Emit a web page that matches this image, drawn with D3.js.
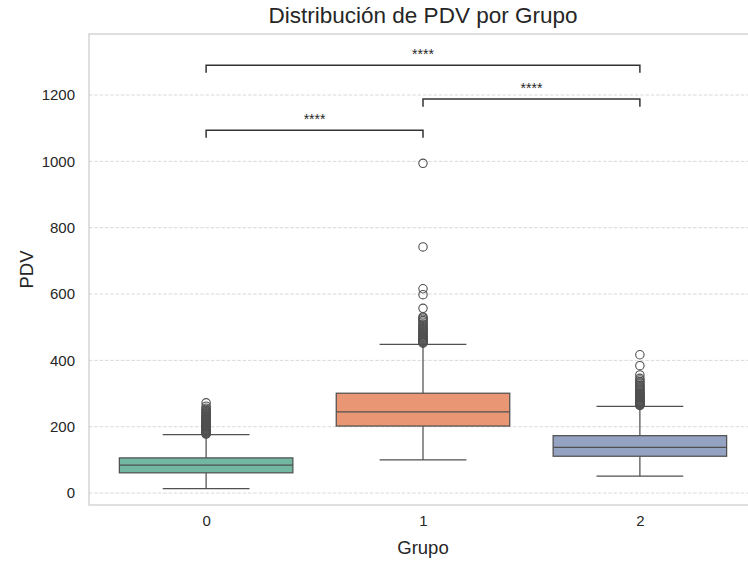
<!DOCTYPE html>
<html>
<head>
<meta charset="utf-8">
<script src="https://cdn.jsdelivr.net/npm/d3@7"></script>
<style>
  body { margin: 0; background: #fff; }
  text { font-family: "Liberation Sans", Arial, sans-serif; fill: #262626; }
</style>
</head>
<body>
<svg id="chart" width="748" height="561"></svg>
<script>
// data
const groups = [0, 1, 2];
const q1 = [61, 202, 111];
const medians = [84, 245, 138];
const q3 = [106, 301, 173];
const whiskerLow = [13, 100, 51];
const whiskerHigh = [176, 448, 261];
const outliers0 = [178, 179, 181, 182, 184, 185, 187, 188, 190, 191, 193, 194, 196, 197, 199, 200, 202, 203, 205, 206, 208, 210, 211, 213, 215, 217, 219, 221, 223, 225, 227, 229, 231, 233, 236, 239, 242, 245, 248, 252, 256, 262, 272];
const outliers1 = [452, 454, 456, 458, 460, 462, 464, 466, 468, 470, 472, 474, 477, 480, 483, 486, 489, 492, 495, 498, 502, 506, 510, 515, 520, 524, 528, 531, 557, 598, 616, 742, 994];
const outliers2 = [264, 265, 266, 268, 269, 270, 272, 273, 275, 276, 278, 279, 281, 283, 285, 287, 289, 291, 293, 295, 297, 299, 302, 305, 308, 311, 314, 317, 320, 324, 328, 332, 336, 341, 346, 356, 384, 417];
const yTicks = [0, 200, 400, 600, 800, 1000, 1200];
const pairs = [[0, 1], [1, 2], [0, 2]];
const pairLevels = [1094, 1188, 1290];
const pairLabels = ["****", "****", "****"];
const fills = ["#71b7a1", "#e99675", "#95a3c3"];

(function(){
	const MARGIN = { top: 34, left: 89, bottom: 505, right: 757 };
	const lineColor = "#505050";
	const outliers = [outliers0, outliers1, outliers2];

	const svg = d3.select("#chart");

	const x = d3.scaleLinear().domain([-0.54, 2.54]).range([MARGIN.left, MARGIN.right]);
	const y = d3.scaleLinear().domain([-36, 1384]).range([MARGIN.bottom, MARGIN.top]);
	const band = x(1) - x(0);
	const boxW = band * 0.8;
	const capW = boxW * 0.5;

	// grid
	svg.append("g")
		.selectAll("line")
		.data(yTicks)
		.enter().append("line")
		.attr("x1", MARGIN.left).attr("x2", MARGIN.right)
		.attr("y1", d => y(d)).attr("y2", d => y(d))
		.attr("stroke", "#d9d9d9")
		.attr("stroke-width", 1)
		.attr("stroke-dasharray", "3.5,1.8");

	// y axis labels
	const yAxis = svg.append("g")
		.attr("transform", "translate(" + MARGIN.left + ",0)")
		.call(d3.axisLeft(y).tickValues(yTicks).tickFormat(d3.format("d")).tickSize(0).tickPadding(14));
	yAxis.select(".domain").remove();
	yAxis.selectAll("text").style("font-size", "15px").attr("fill", "#262626");

	// x axis labels
	const xAxis = svg.append("g")
		.attr("transform", "translate(0," + MARGIN.bottom + ")")
		.call(d3.axisBottom(x).tickValues(groups).tickFormat(d3.format("d")).tickSize(0).tickPadding(10));
	xAxis.select(".domain").remove();
	xAxis.selectAll("text").style("font-size", "15px").attr("fill", "#262626");

	// boxes
	const g = svg.append("g");
	groups.forEach(function(k, i){
		const cx = x(k);
		// whiskers
		g.append("line")
			.attr("x1", cx).attr("x2", cx)
			.attr("y1", y(q3[i])).attr("y2", y(whiskerHigh[i]))
			.attr("stroke", lineColor).attr("stroke-width", 1.25);
		g.append("line")
			.attr("x1", cx).attr("x2", cx)
			.attr("y1", y(q1[i])).attr("y2", y(whiskerLow[i]))
			.attr("stroke", lineColor).attr("stroke-width", 1.25);
		[whiskerHigh[i], whiskerLow[i]].forEach(function(v){
			g.append("line")
				.attr("x1", cx - capW / 2).attr("x2", cx + capW / 2)
				.attr("y1", y(v)).attr("y2", y(v))
				.attr("stroke", lineColor).attr("stroke-width", 1.25);
		});
		// box
		g.append("rect")
			.attr("x", cx - boxW / 2)
			.attr("y", y(q3[i]))
			.attr("width", boxW)
			.attr("height", y(q1[i]) - y(q3[i]))
			.attr("fill", fills[i])
			.attr("stroke", lineColor).attr("stroke-width", 1.25);
		g.append("line")
			.attr("x1", cx - boxW / 2).attr("x2", cx + boxW / 2)
			.attr("y1", y(medians[i])).attr("y2", y(medians[i]))
			.attr("stroke", lineColor).attr("stroke-width", 1.25);
		// fliers
		g.append("g").selectAll("circle")
			.data(outliers[i])
			.enter().append("circle")
			.attr("cx", cx)
			.attr("cy", d => y(d))
			.attr("r", 4.2)
			.attr("fill", "none")
			.attr("stroke", lineColor)
			.attr("stroke-width", 1.1);
	});

	// frame
	svg.append("rect")
		.attr("x", MARGIN.left).attr("y", MARGIN.top)
		.attr("width", MARGIN.right - MARGIN.left)
		.attr("height", MARGIN.bottom - MARGIN.top)
		.attr("fill", "none")
		.attr("stroke", "#cccccc")
		.attr("stroke-width", 1.25);

	// significance brackets
	const tick = y(0) - y(23);
	pairs.forEach(function(p, i){
		const yy = y(pairLevels[i]);
		const x1 = x(p[0]), x2 = x(p[1]);
		svg.append("path")
			.attr("d", "M" + x1 + "," + (yy + tick) + "V" + yy + "H" + x2 + "V" + (yy + tick))
			.attr("fill", "none")
			.attr("stroke", "#333")
			.attr("stroke-width", 1.5);
		svg.append("text")
			.attr("x", (x1 + x2) / 2)
			.attr("y", yy - 6)
			.attr("text-anchor", "middle")
			.style("font-size", "14px")
			.text(pairLabels[i]);
	});

	// titles
	svg.append("text")
		.attr("x", (MARGIN.left + MARGIN.right) / 2)
		.attr("y", 23)
		.attr("text-anchor", "middle")
		.style("font-size", "22.5px")
		.text("Distribución de PDV por Grupo");
	svg.append("text")
		.attr("x", (MARGIN.left + MARGIN.right) / 2)
		.attr("y", 554)
		.attr("text-anchor", "middle")
		.style("font-size", "18.5px")
		.text("Grupo");
	svg.append("text")
		.attr("transform", "translate(33," + ((MARGIN.top + MARGIN.bottom) / 2) + ") rotate(-90)")
		.attr("text-anchor", "middle")
		.style("font-size", "18.5px")
		.text("PDV");
})();
</script>
</body>
</html>
